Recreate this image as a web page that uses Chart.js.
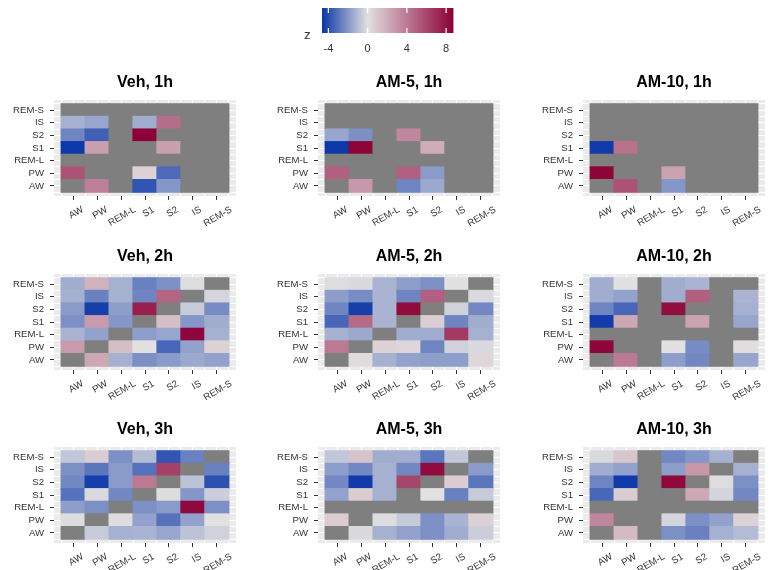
<!DOCTYPE html>
<html><head><meta charset="utf-8">
<script src="https://cdn.jsdelivr.net/npm/chart.js@4.4.0/dist/chart.umd.min.js"></script>
<style>
html,body{margin:0;padding:0;background:#fff;}
body{width:772px;height:570px;position:relative;overflow:hidden;font-family:"Liberation Sans",Arial,sans-serif;}
canvas{position:absolute;}
#ztitle{position:absolute;left:304px;top:27px;font-size:13px;color:#333;}
</style></head><body>
<div id="ztitle">z</div>
<script>
// ---------- data ----------
const stages = ['AW','PW','REM-L','S1','S2','IS','REM-S'];   // x and y categories (y: bottom -> top)
const panelTitles = ['Veh, 1h','AM-5, 1h','AM-10, 1h','Veh, 2h','AM-5, 2h','AM-10, 2h','Veh, 3h','AM-5, 3h','AM-10, 3h'];
const zTicks = [-4, 0, 4, 8];
const zLimits = [-4.65, 8.75];
const N = null;
// each matrix: rows in stages order (AW first = bottom), columns in stages order
const veh1h = [
  [N, 3.8, N, -3.8, -2.0, N, N],
  [5.5, N, N, 0.5, -3.2, N, N],
  [N, N, N, N, N, N, N],
  [-4.6, 2.5, N, N, 2.5, N, N],
  [-2.5, -3.5, N, 8.7, N, N, N],
  [-1.3, -1.6, N, -1.4, 4.5, N, N],
  [N, N, N, N, N, N, N]
];
const am5_1h = [
  [N, 2.8, N, -2.5, -1.5, N, N],
  [5.0, N, N, 5.0, -1.9, N, N],
  [N, N, N, N, N, N, N],
  [-4.6, 8.6, N, N, 2.0, N, N],
  [-1.6, -2.2, N, 3.5, N, N, N],
  [N, N, N, N, N, N, N],
  [N, N, N, N, N, N, N]
];
const am10_1h = [
  [N, 5.5, N, -2.0, N, N, N],
  [8.6, N, N, 2.4, N, N, N],
  [N, N, N, N, N, N, N],
  [-4.5, 4.3, N, N, N, N, N],
  [N, N, N, N, N, N, N],
  [N, N, N, N, N, N, N],
  [N, N, N, N, N, N, N]
];
const veh2h = [
  [N, 2.2, -1.3, -2.2, -1.9, -1.5, -1.7],
  [2.7, N, 1.3, 0.0, -3.3, -1.7, 0.6],
  [-1.2, -1.7, N, -1.8, -1.6, 8.5, -1.3],
  [-2.2, 2.7, -2.0, N, 1.3, -2.0, -1.4],
  [-1.9, -4.4, -1.8, 7.5, N, -0.6, -2.3],
  [-1.3, -2.6, -1.3, -2.5, 4.8, N, -0.3],
  [-1.4, 1.8, -1.3, -2.6, -2.2, -0.1, N]
];
const am5_2h = [
  [N, 0.2, -1.3, -1.7, -1.8, -1.8, 0.4],
  [4.0, N, 0.5, 0.4, -2.5, -0.4, -0.2],
  [-1.3, -1.5, N, -1.4, -1.4, 6.5, -1.3],
  [-3.3, 4.6, -1.2, N, 0.7, -2.5, -1.4],
  [-2.5, -4.4, -1.2, 8.3, N, -0.4, -2.4],
  [-1.8, -2.3, -1.2, -2.5, 5.0, N, -0.2],
  [-0.1, -0.2, -1.2, -1.8, -2.2, 0.0, N]
];
const am10_2h = [
  [N, 4.0, N, -1.8, -2.4, N, -1.6],
  [8.5, N, N, 0.0, -2.3, N, 0.1],
  [N, N, N, N, N, N, N],
  [-4.5, 2.2, N, N, 2.4, N, -1.6],
  [-2.5, -3.3, N, 8.2, N, N, -1.3],
  [-1.4, -1.7, N, -1.4, 5.0, N, -1.2],
  [-1.4, 0.0, N, -1.4, -1.2, N, N]
];
const veh3h = [
  [N, -0.6, -1.3, -1.2, -1.6, -0.8, -0.4],
  [-0.1, N, 0.2, -1.7, -3.0, -1.7, 0.0],
  [-1.8, -2.2, N, -2.2, -1.9, 8.4, -2.2],
  [-3.0, -0.2, -2.4, N, -0.1, -2.0, -0.5],
  [-2.4, -4.4, -1.9, 4.0, N, -0.8, -3.9],
  [-2.2, -2.9, -1.9, -3.0, 6.2, N, -2.6],
  [-0.7, 0.8, -2.2, -1.0, -3.8, -2.6, N]
];
const am5_3h = [
  [N, -0.2, -1.3, -1.7, -2.2, -1.4, -0.5],
  [0.8, N, -0.1, -0.6, -2.2, -1.2, 0.6],
  [N, N, N, N, N, N, N],
  [-1.7, 0.8, -1.3, N, 0.0, -2.6, -0.6],
  [-2.4, -4.5, -1.3, 6.0, N, 0.8, -2.9],
  [-1.8, -2.4, -1.3, -2.4, 8.3, N, -1.9],
  [-0.7, 1.1, -1.4, -1.4, -2.9, -0.7, N]
];
const am10_3h = [
  [N, 1.5, N, -2.2, -2.6, -1.3, -1.0],
  [3.5, N, N, -0.3, -2.2, -1.7, 0.5],
  [N, N, N, N, N, N, N],
  [-3.3, 0.8, N, N, 2.2, -0.3, -2.4],
  [-2.5, -4.5, N, 8.4, N, -0.1, -2.2],
  [-1.4, -1.7, N, -1.8, 2.8, N, -1.3],
  [-0.2, 1.0, N, -2.4, -2.0, -1.3, N]
];
const panelData = [veh1h, am5_1h, am10_1h, veh2h, am5_2h, am10_2h, veh3h, am5_3h, am10_3h];

// ---------- styling ----------
const FONT = '"Liberation Sans", Arial, sans-serif';
const LOW = [10, 54, 168], MID = [226, 224, 224], HIGH = [140, 0, 54];
const NA_COLOR = '#7F7F7F';
function mix(a, b, t) { return a.map((v, i) => Math.round(v + (b[i] - v) * t)); }
function zColor(v) {
  if (v === null || v === undefined) return NA_COLOR;
  let c;
  if (v < 0) c = mix(MID, LOW, Math.min(1, v / zLimits[0]));
  else c = mix(MID, HIGH, Math.min(1, v / zLimits[1]));
  return 'rgb(' + c.join(',') + ')';
}

const AREA_W = 182, AREA_H = 96, AX_L = 50, AX_R = 50, TITLE_H = 39, XAX_H = 4, XLAB_H = 26;
const EXP = 0.3;
const colLefts = [54, 318, 583];
const rowTops = [100, 274, 447];
const halfSteps = [];
for (let v = -0.5; v <= 6.5; v += 0.5) halfSteps.push(v);
const pxPerUnit = AREA_W / (7 + 2 * EXP);
const mctx = document.createElement('canvas').getContext('2d');
mctx.font = '9.6px ' + FONT;
function labelShift(lab) { return (5 + 0.3 * mctx.measureText(lab).width) / pxPerUnit; }
function zeroPad(s) { s.paddingLeft = 0; s.paddingRight = 0; s.paddingTop = 0; s.paddingBottom = 0; }

const bgPlugin = {
  id: 'panelBg',
  beforeDraw(chart) {
    const { ctx, chartArea: a } = chart;
    ctx.save(); ctx.fillStyle = '#EBEBEB';
    ctx.fillRect(a.left, a.top, a.width, a.height);
    ctx.restore();
  }
};

function makePanel(idx) {
  const col = idx % 3, row = Math.floor(idx / 3);
  const matrix = panelData[idx];
  const W = AX_L + AREA_W + AX_R, H = TITLE_H + AREA_H + XAX_H + XLAB_H;
  const cv = document.createElement('canvas');
  cv.width = W; cv.height = H;
  cv.style.left = (colLefts[col] - AX_L) + 'px';
  cv.style.top = (rowTops[row] - TITLE_H) + 'px';
  cv.style.width = W + 'px'; cv.style.height = H + 'px';
  document.body.appendChild(cv);
  // x grid ticks sit every half category, so the bar ruler's minimum spacing is half a
  // category: categoryPercentage 2 makes each tile span exactly one category.
  const datasets = matrix.map((vals, r) => ({
    data: vals.map((v, c) => ({ x: c, y: [r - 0.5, r + 0.5] })),
    backgroundColor: vals.map(v => zColor(v)),
    grouped: false, barPercentage: 1, categoryPercentage: 2, borderWidth: 0, inflateAmount: 0.6
  }));
  const tickCol = ctx => (ctx.tick && Number.isInteger(ctx.tick.value)) ? '#333333' : 'rgba(0,0,0,0)';
  new Chart(cv, {
    type: 'bar',
    data: { datasets },
    plugins: [bgPlugin],
    options: {
      responsive: false, animation: false,
      layout: { padding: 0, autoPadding: false },
      plugins: {
        legend: { display: false }, tooltip: { enabled: false },
        title: { display: true, text: panelTitles[idx], color: '#000',
          font: { family: FONT, size: 16, weight: 'bold', lineHeight: 1.25 },
          padding: { top: 12, bottom: 7 } }
      },
      scales: {
        x: {
          type: 'linear', position: 'bottom', weight: 0, offset: false,
          min: -0.5 - EXP, max: 6.5 + EXP,
          afterBuildTicks: s => { s.ticks = halfSteps.map(v => ({ value: v })); },
          ticks: { display: false, autoSkip: false },
          grid: { color: '#FFFFFF', lineWidth: 1, tickLength: 4, drawTicks: true, tickColor: tickCol, offset: false },
          border: { display: false },
          afterFit: s => { s.height = XAX_H; zeroPad(s); }
        },
        x2: {
          type: 'linear', position: 'bottom', weight: 1, offset: false,
          min: -0.5 - EXP, max: 6.5 + EXP,
          afterBuildTicks: s => { s.ticks = stages.map((lab, i) => ({ value: i + labelShift(lab) })); },
          ticks: { autoSkip: false, minRotation: 30, maxRotation: 30, padding: -4, color: '#333333',
            font: { family: FONT, size: 9.6 }, callback: (v, i) => stages[i] },
          grid: { display: false }, border: { display: false },
          afterFit: s => { s.height = XLAB_H; zeroPad(s); }
        },
        y: {
          type: 'linear', position: 'left', min: -0.5 - EXP, max: 6.5 + EXP,
          afterBuildTicks: s => { s.ticks = halfSteps.map(v => ({ value: v })); },
          ticks: { autoSkip: false, padding: 6, color: '#333333', font: { family: FONT, size: 9.6 },
            callback: v => Number.isInteger(v) ? stages[v] : '' },
          grid: { color: '#FFFFFF', lineWidth: 1, tickLength: 4, tickColor: tickCol },
          border: { display: false },
          afterFit: s => { s.width = AX_L; zeroPad(s); }
        },
        y2: {
          type: 'linear', position: 'right', display: true,
          ticks: { display: false }, grid: { display: false }, border: { display: false },
          afterFit: s => { s.width = AX_R; zeroPad(s); }
        }
      }
    }
  });
}
for (let i = 0; i < 9; i++) makePanel(i);

// ---------- colour bar ----------
(function () {
  const W = 180, H = 60, L = 300;
  const cv = document.createElement('canvas');
  cv.width = W; cv.height = H;
  cv.style.left = L + 'px'; cv.style.top = '0px';
  cv.style.width = W + 'px'; cv.style.height = H + 'px';
  document.body.appendChild(cv);
  const barTicks = {
    id: 'barTicks',
    afterDatasetsDraw(chart) {
      const { ctx, chartArea: a, scales: { x } } = chart;
      ctx.save(); ctx.strokeStyle = '#FFFFFF'; ctx.lineWidth = 1.2;
      zTicks.forEach(t => {
        const px = x.getPixelForValue(t);
        ctx.beginPath();
        ctx.moveTo(px, a.top); ctx.lineTo(px, a.top + a.height / 5);
        ctx.moveTo(px, a.bottom); ctx.lineTo(px, a.bottom - a.height / 5);
        ctx.stroke();
      });
      ctx.restore();
    }
  };
  new Chart(cv, {
    type: 'bar',
    data: { labels: ['z'], datasets: [{
      data: [zLimits],
      barPercentage: 1, categoryPercentage: 1, borderWidth: 0,
      backgroundColor: ctx => {
        const chart = ctx.chart;
        if (!chart.chartArea) return '#ccc';
        const x = chart.scales.x;
        const x0 = x.getPixelForValue(zLimits[0]), x1 = x.getPixelForValue(zLimits[1]);
        const g = chart.ctx.createLinearGradient(x0, 0, x1, 0);
        const zf = (0 - zLimits[0]) / (zLimits[1] - zLimits[0]);
        g.addColorStop(0, 'rgb(' + LOW.join(',') + ')');
        g.addColorStop(zf, 'rgb(' + MID.join(',') + ')');
        g.addColorStop(1, 'rgb(' + HIGH.join(',') + ')');
        return g;
      }
    }] },
    plugins: [barTicks],
    options: {
      indexAxis: 'y', responsive: false, animation: false,
      layout: { autoPadding: false, padding: { left: 22, right: 26.5, top: 8, bottom: 0 } },
      plugins: { legend: { display: false }, tooltip: { enabled: false } },
      scales: {
        x: {
          type: 'linear', min: zLimits[0], max: zLimits[1],
          afterBuildTicks: s => { s.ticks = zTicks.map(v => ({ value: v })); },
          ticks: { autoSkip: false, color: '#333333', font: { family: FONT, size: 11 }, padding: 1,
            callback: v => String(v) },
          grid: { display: false }, border: { display: false },
          afterFit: s => { s.height = H - 8 - 25; zeroPad(s); }
        },
        y: { type: 'category', display: false }
      }
    }
  });
})();
</script>
</body></html>
